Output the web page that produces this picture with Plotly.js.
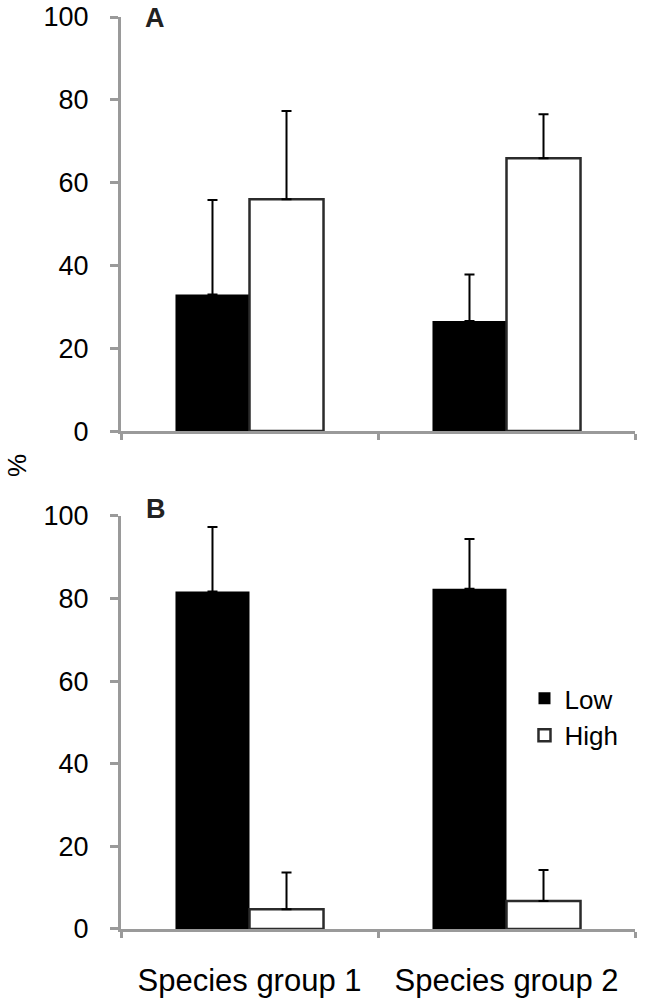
<!DOCTYPE html>
<html>
<head>
<meta charset="utf-8">
<script src="https://cdn.plot.ly/plotly-3.0.1.min.js"></script>
<style>html,body{margin:0;padding:0;background:#fff;}#chart{width:646px;height:1003px;}</style>
</head>
<body>
<div id="chart"></div>
<script>
// Data
const categories = ["Species group 1", "Species group 2"];
const seriesNames = ["Low", "High"];
// Panel A
const lowA = [33.0, 26.6];
const lowAErr = [22.8, 11.2];
const highA = [56.0, 65.9];
const highAErr = [21.3, 10.6];
// Panel B
const lowB = [81.7, 82.4];
const lowBErr = [15.6, 12.0];
const highB = [4.8, 6.8];
const highBErr = [8.9, 7.5];
const yTicks = [0, 20, 40, 60, 80, 100];
const panelLabels = ["A", "B"];
const yTitle = "%";

const FONT = "Liberation Sans, Arial, sans-serif";
const AXIS_GRAY = "#9a9a9a";

function barTrace(name, y, err, xa, ya, isLow, showLegend) {
  return {
    type: "bar",
    name: name,
    x: categories,
    y: y,
    xaxis: xa,
    yaxis: ya,
    legendgroup: name,
    showlegend: showLegend,
    marker: {
      color: isLow ? "#000000" : "#ffffff",
      line: {color: isLow ? "#000000" : "#2b2b2b", width: isLow ? 0 : 2.5}
    },
    error_y: {type: "data", array: err, symmetric: false, arrayminus: err.map(() => 0),
              color: "#000000", thickness: 2, width: 5},
    hoverinfo: "skip"
  };
}

const data = [
  barTrace(seriesNames[0], lowA, lowAErr, "x2", "y2", true, false),
  barTrace(seriesNames[1], highA, highAErr, "x2", "y2", false, false),
  barTrace(seriesNames[0], lowB, lowBErr, "x", "y", true, true),
  barTrace(seriesNames[1], highB, highBErr, "x", "y", false, true)
];

function yAxis(domain) {
  return {
    domain: domain, range: [0, 100], tickvals: yTicks, ticktext: yTicks.map(String),
    showgrid: false, zeroline: false, showline: true, linecolor: AXIS_GRAY, linewidth: 3,
    ticks: "outside", ticklen: 8, tickwidth: 3, tickcolor: AXIS_GRAY,
    tickfont: {family: FONT, size: 27, color: "#000"}, ticklabelstandoff: 16,
    fixedrange: true
  };
}
function xAxis(anchor, showLabels) {
  return {
    anchor: anchor, type: "category", range: [-0.5, 1.5],
    showgrid: false, zeroline: false, showline: true, linecolor: AXIS_GRAY, linewidth: 3,
    ticks: "outside", tickson: "boundaries", ticklen: 6, tickwidth: 3, tickcolor: AXIS_GRAY,
    showticklabels: showLabels, tickangle: 0, tickfont: {family: FONT, size: 31, color: "#000"},
    ticklabelstandoff: 22, fixedrange: true
  };
}

const layout = {
  width: 646, height: 1003,
  margin: {l: 121, r: 11, t: 17, b: 74},
  paper_bgcolor: "#fff", plot_bgcolor: "#fff",
  barmode: "group", bargap: 0.424, bargroupgap: 0,
  font: {family: FONT, color: "#000"},
  xaxis: xAxis("y", true),
  yaxis: yAxis([0, 0.4529]),
  xaxis2: xAxis("y2", false),
  yaxis2: yAxis([0.546, 1]),
  showlegend: true,
  legend: {x: 0.785, y: 0.2325, xanchor: "left", yanchor: "middle", xref: "paper", yref: "paper",
           font: {family: FONT, size: 26, color: "#000"}, bgcolor: "rgba(0,0,0,0)",
           itemwidth: 30, traceorder: "normal"},
  annotations: [
    {text: "<b>" + panelLabels[0] + "</b>", xref: "paper", yref: "paper", x: 0.066, y: 1.0175,
     xanchor: "center", yanchor: "top", showarrow: false,
     font: {family: FONT, size: 27, color: "#222"}},
    {text: "<b>" + panelLabels[1] + "</b>", xref: "paper", yref: "paper", x: 0.068, y: 0.460,
     xanchor: "center", yanchor: "middle", showarrow: false,
     font: {family: FONT, size: 27, color: "#222"}},
    {text: yTitle, xref: "paper", yref: "paper", x: -0.2354, y: 0.5077, textangle: -90,
     xanchor: "left", yanchor: "middle", showarrow: false,
     font: {family: FONT, size: 26, color: "#000"}}
  ]
};

Plotly.newPlot("chart", data, layout, {displayModeBar: false, staticPlot: true});
</script>
</body>
</html>
